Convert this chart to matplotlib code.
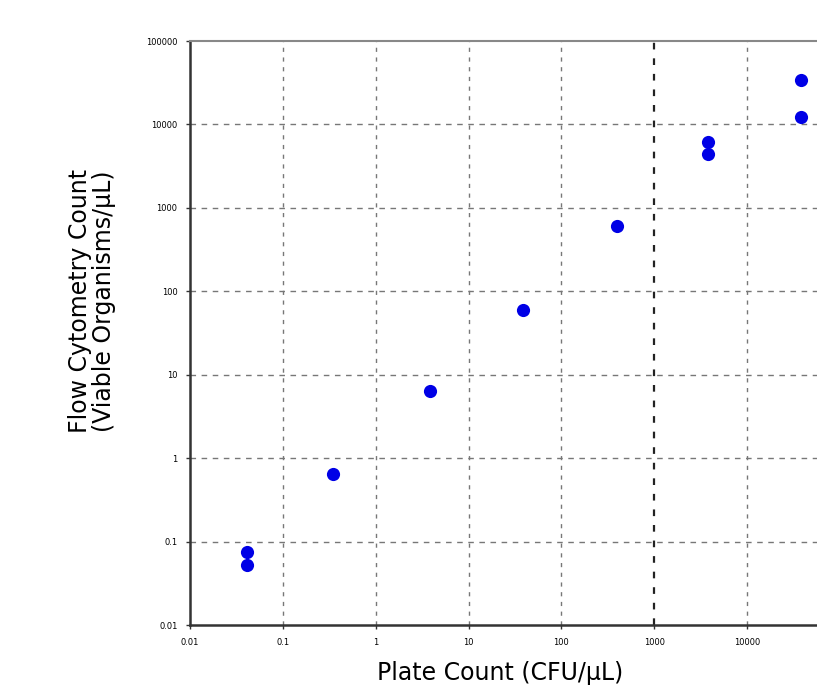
import matplotlib.pyplot as plt
from matplotlib.ticker import FixedLocator, FixedFormatter

# plate count (CFU/uL) vs flow cytometry count (viable organisms/uL)
plate_count = [0.041, 0.041, 0.35, 3.8, 38.5, 394, 3760, 3760, 38400, 38400]
flow_count = [0.076, 0.053, 0.64, 6.3, 59, 600, 6200, 4400, 33800, 12200]

tick_values = [0.01, 0.1, 1, 10, 100, 1000, 10000, 100000]
tick_labels = ["0.01", "0.1", "1", "10", "100", "1000", "10000", "100000"]

fig = plt.figure(figsize=(8.17, 6.93), dpi=100)
ax = fig.add_axes([0.2326, 0.0981, 0.7956, 0.8427])
ax.set_xscale("log")
ax.set_yscale("log")
ax.set_xlim(0.01, 100000)
ax.set_ylim(0.01, 100000)

ax.xaxis.set_major_locator(FixedLocator(tick_values))
ax.xaxis.set_major_formatter(FixedFormatter(tick_labels))
ax.yaxis.set_major_locator(FixedLocator(tick_values))
ax.yaxis.set_major_formatter(FixedFormatter(tick_labels))
ax.minorticks_off()
ax.tick_params(labelsize=6, length=3, width=1, color="#333333", pad=6)

# dashed grid
for v in tick_values[1:-1]:
    c = "#222222" if v == 1000 else "#777777"
    lw = 1.6 if v == 1000 else 1.0
    ax.axvline(v, color=c, lw=lw, ls=(0, (3, 4)), zorder=1)
    ax.axhline(v, color="#777777", lw=1.0, ls=(0, (4, 4)), zorder=1)

ax.scatter(plate_count, flow_count, s=90, color="#0000e6", zorder=3, linewidths=0)

for side in ["left", "bottom"]:
    ax.spines[side].set_linewidth(1.8)
    ax.spines[side].set_color("#333333")
ax.spines["top"].set_linewidth(1.5)
ax.spines["top"].set_color("#888888")
ax.spines["right"].set_visible(False)

fig.text(0.612, 0.012, "Plate Count (CFU/\u00b5L)", fontsize=17, ha="center", va="bottom")
fig.text(0.112, 0.566, "Flow Cytometry Count\n(Viable Organisms/\u00b5L)", fontsize=17,
         rotation=90, ha="center", va="center", linespacing=1.0)

fig.savefig("out.png", dpi=100)
